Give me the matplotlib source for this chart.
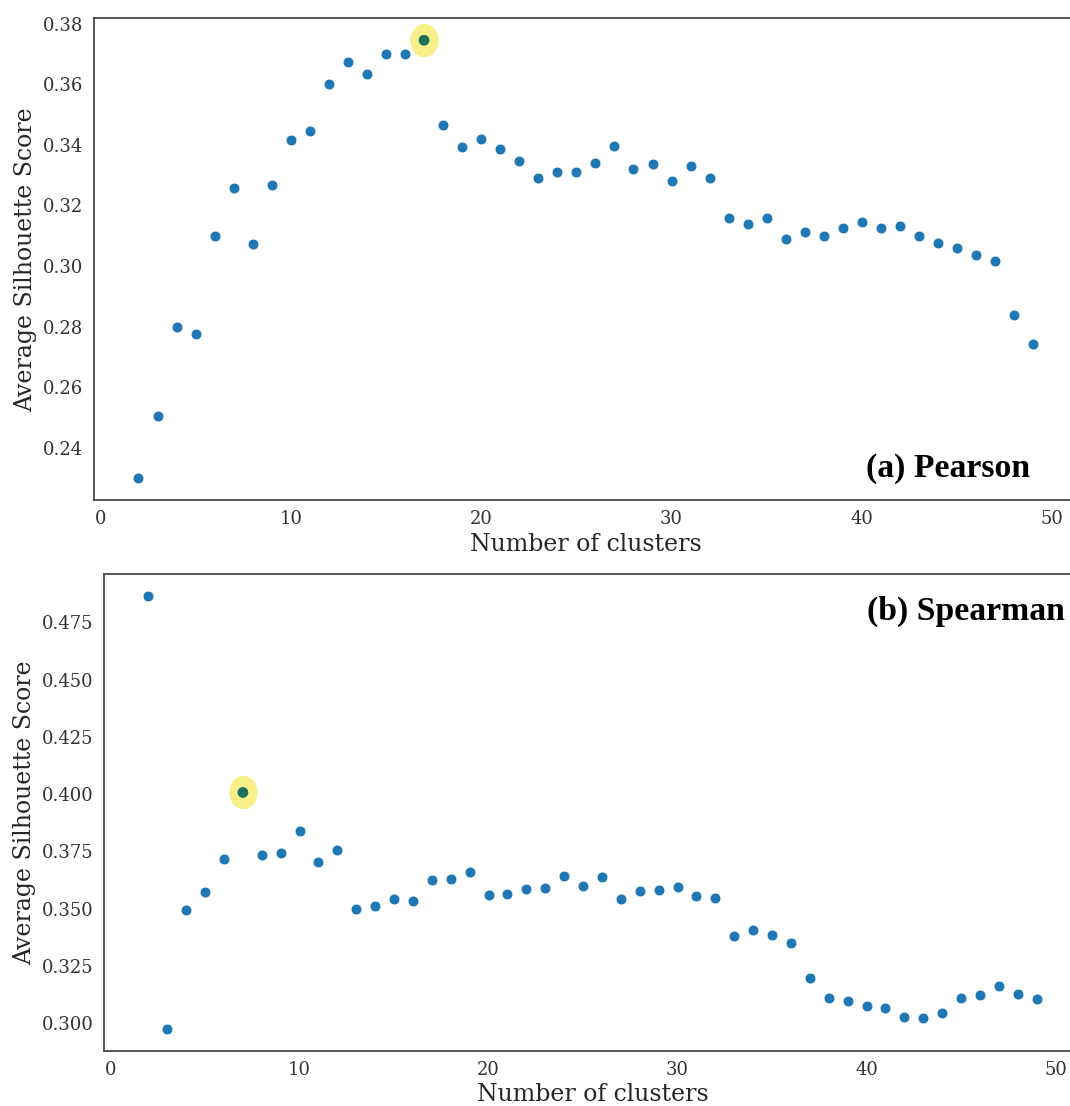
import numpy as np
import matplotlib
matplotlib.use('Agg')
import matplotlib.pyplot as plt
from matplotlib.path import Path

# silhouette scores per number of clusters
clusters = list(range(2, 50))

pearson_scores = [0.2300, 0.2505, 0.2798, 0.2774, 0.3100, 0.3257, 0.3073, 0.3266,
                  0.3417, 0.3445, 0.3599, 0.3673, 0.3633, 0.3701, 0.3700, 0.3745,
                  0.3465, 0.3394, 0.3420, 0.3387, 0.3347, 0.3290, 0.3310, 0.3311,
                  0.3339, 0.3397, 0.3320, 0.3336, 0.3280, 0.3330, 0.3291, 0.3159,
                  0.3140, 0.3160, 0.3088, 0.3112, 0.3098, 0.3125, 0.3144, 0.3124,
                  0.3132, 0.3098, 0.3077, 0.3058, 0.3035, 0.3018, 0.2839, 0.2741]

spearman_scores = [0.4866, 0.2974, 0.3493, 0.3571, 0.3715, 0.4007, 0.3736, 0.3744,
                   0.3840, 0.3705, 0.3756, 0.3497, 0.3513, 0.3540, 0.3533, 0.3623,
                   0.3630, 0.3659, 0.3559, 0.3565, 0.3586, 0.3589, 0.3644, 0.3597,
                   0.3638, 0.3541, 0.3577, 0.3583, 0.3595, 0.3555, 0.3547, 0.3382,
                   0.3408, 0.3385, 0.3351, 0.3195, 0.3108, 0.3097, 0.3075, 0.3064,
                   0.3027, 0.3020, 0.3044, 0.3109, 0.3122, 0.3160, 0.3128, 0.3106]

best_pearson = 17
best_spearman = 7

panel_titles = ['(a) Pearson', '(b) Spearman']
title_pos = [(40.2, 0.2304), (40.0, 0.476)]

plt.rcParams['font.family'] = 'DejaVu Serif'

# slightly tall ellipse for the highlight behind the best k
t = np.linspace(0, 2 * np.pi, 64)
blob = Path(np.column_stack([np.cos(t) * 27 / 32, np.sin(t)]))

fig = plt.figure(figsize=(10.7, 11.06), dpi=100)
ax1 = fig.add_axes([0.0876, 0.5479, 0.9199, 0.4355])
ax2 = fig.add_axes([0.0972, 0.0500, 0.9131, 0.4310])

panels = [(ax1, pearson_scores, best_pearson), (ax2, spearman_scores, best_spearman)]

for i, (ax, scores, best) in enumerate(panels):
    ax.scatter(clusters, scores, s=60, color='#1f77b4', edgecolor='white',
               linewidth=0.5, zorder=3)
    j = clusters.index(best)
    ax.plot([best], [scores[j]], marker=blob, markersize=23, color='#f8ef8a',
            linestyle='none', zorder=4)
    ax.scatter([best], [scores[j]], s=60, color='#1d6e5a', edgecolor='none', zorder=5)

    ax.set_xlabel('Number of clusters', fontsize=17, color='#262626', labelpad=3)
    ax.set_ylabel('Average Silhouette Score', fontsize=17, color='#262626', labelpad=4)
    ax.tick_params(axis='both', length=0, pad=7.5, labelsize=13, labelcolor='#333333')
    ax.set_xticks([0, 10, 20, 30, 40, 50])
    for side in ['top', 'bottom', 'left', 'right']:
        ax.spines[side].set_color('#4a4a4a')
        ax.spines[side].set_linewidth(1.3)

    tx, ty = title_pos[i]
    ax.text(tx, ty, panel_titles[i], family='Liberation Serif', fontweight='bold',
            fontsize=24.3, color='black', ha='left', va='baseline', zorder=6)

ax1.set_yticks([0.24, 0.26, 0.28, 0.30, 0.32, 0.34, 0.36, 0.38])
ax2.set_yticks([0.300, 0.325, 0.350, 0.375, 0.400, 0.425, 0.450, 0.475])
ax2.yaxis.set_major_formatter(plt.FormatStrFormatter('%.3f'))

fig.savefig('out.png', dpi=100)
